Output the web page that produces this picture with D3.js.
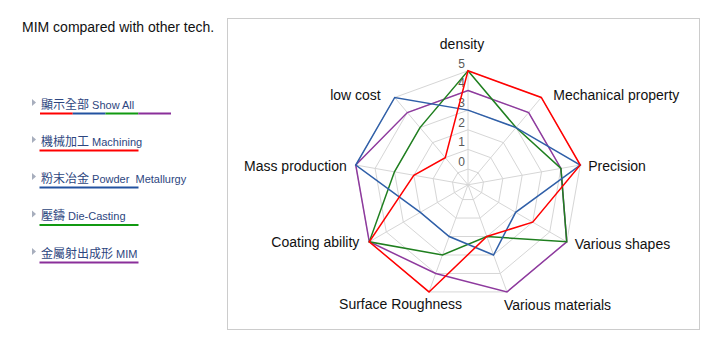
<!DOCTYPE html>
<html>
<head>
<meta charset="utf-8">
<script src="https://cdn.jsdelivr.net/npm/d3@7"></script>
<style>
  html, body { margin: 0; padding: 0; background: #ffffff; }
  svg { display: block; }
</style>
</head>
<body>
<svg id="chart" width="725" height="357"></svg>
<script>
// ---------- data ----------
const categories = ["density", "Mechanical property", "Precision", "Various shapes",
  "Various materials", "Surface Roughness", "Coating ability", "Mass production", "low cost"];
const machiningValues  = [5, 5, 5, 3, 2, 5, 5, 2, 1];
const powderValues     = [3, 3, 5, 2, 3, 2, 2, 5, 5];
const dieCastingValues = [5, 3, 4, 5, 2, 3, 5, 3, 3];
const mimValues        = [4, 4, 4, 5, 5, 4, 5, 5, 4];
const tickValues = [0, 1, 2, 3, 4, 5];
const titleText = "MIM compared with other tech.";
const legendZh = ["顯示全部", "機械加工", "粉末冶金", "壓鑄", "金屬射出成形"];
const legendEn = ["Show All", "Machining", "Powder  Metallurgy", "Die-Casting", "MIM"];

// ---------- layout / style ----------
const colors = { machining: "#ff0000", powder: "#2f5fa8", die: "#1f7f1f", mim: "#8e3a9e" };
const cx = 468, cy = 184.8, R = 114;
// label nudges (dx, dy, anchor) relative to the outer vertex of each axis
const labelLayout = [
  [-6, -26.5, "middle"], [12, -2.5, "start"], [8, 1, "start"], [8, 2.5, "start"],
  [-3, 13, "start"], [33, 12, "end"], [-10, 0.5, "end"], [-9, 1, "end"], [-14, -2, "end"]
];

const svg = d3.select("#chart");
const font = "'Liberation Sans', Arial, sans-serif";

// title
svg.append("text").attr("x", 22).attr("y", 32)
  .attr("font-family", font).attr("font-size", 14).attr("fill", "#111")
  .text(titleText);

// plot frame
svg.append("rect").attr("x", 227.5).attr("y", 18.5).attr("width", 472).attr("height", 311)
  .attr("fill", "#fff").attr("stroke", "#cccccc").attr("stroke-width", 1);

const g = svg.append("g").attr("transform", `translate(${cx},${cy})`);
const n = categories.length;
const angle = d3.scaleLinear().domain([0, n]).range([0, 2 * Math.PI]);
const r = d3.scaleLinear().domain([-0.8, 5]).range([0, R]);

// grid rings
const ringLine = d3.lineRadial().curve(d3.curveLinearClosed)
  .angle((d, i) => angle(i)).radius(d => r(d));
tickValues.forEach(t => {
  g.append("path").attr("d", ringLine(categories.map(() => t)))
    .attr("fill", "none").attr("stroke", "#d6d6d6").attr("stroke-width", 1);
});
// spokes
categories.forEach((c, i) => {
  const a = angle(i);
  g.append("line").attr("x1", 0).attr("y1", 0)
    .attr("x2", R * Math.sin(a)).attr("y2", -R * Math.cos(a))
    .attr("stroke", "#d6d6d6").attr("stroke-width", 1);
});

// tick labels
tickValues.forEach(t => {
  g.append("text").attr("x", -3).attr("y", -r(t) - 3)
    .attr("text-anchor", "end").attr("font-family", font).attr("font-size", 12)
    .attr("fill", "#595959").text(t);
});

// category labels
categories.forEach((c, i) => {
  const a = angle(i);
  const [dx, dy, anchor] = labelLayout[i];
  g.append("text")
    .attr("x", R * Math.sin(a) + dx).attr("y", -R * Math.cos(a) + dy)
    .attr("dy", "0.35em").attr("text-anchor", anchor)
    .attr("font-family", font).attr("font-size", 14).attr("fill", "#111")
    .text(c);
});

// series
const seriesLine = d3.lineRadial().curve(d3.curveLinearClosed)
  .angle((d, i) => angle(i)).radius(d => r(d));
const series = [
  { v: mimValues, c: colors.mim },
  { v: dieCastingValues, c: colors.die },
  { v: powderValues, c: colors.powder },
  { v: machiningValues, c: colors.machining }
];
series.forEach(s => {
  g.append("path").attr("d", seriesLine(s.v))
    .attr("fill", "none").attr("stroke", s.c).attr("stroke-width", 1.5)
    .attr("stroke-linejoin", "miter");
});

// legend
const legendY = [102.5, 139.5, 176.5, 214, 251.5];
const underlineColors = [null, colors.machining, "#2352a0", "#119911", "#8a2f9a"];
legendZh.forEach((zh, i) => {
  const y = legendY[i];
  svg.append("path").attr("d", `M32,${y - 3.5}L36,${y}L32,${y + 3.5}Z`).attr("fill", "#a7aebd");
  const t = svg.append("text").attr("x", 41).attr("y", y).attr("dy", "0.38em")
    .attr("fill", "#2d4680").attr("xml:space", "preserve");
  t.append("tspan").attr("font-family", "'Noto Sans CJK TC', 'Noto Sans CJK SC', sans-serif")
    .attr("font-size", 12).text(zh);
  t.append("tspan").attr("font-family", font).attr("font-size", 11)
    .attr("style", "white-space: pre").text(" " + legendEn[i]);
  const uy = y + 11;
  if (i === 0) {
    const segs = [colors.machining, "#2352a0", "#119911", "#8a2f9a"];
    segs.forEach((c, k) => {
      svg.append("line").attr("x1", 40 + k * 32.75).attr("x2", 40 + (k + 1) * 32.75)
        .attr("y1", uy).attr("y2", uy).attr("stroke", c).attr("stroke-width", 2);
    });
  } else {
    svg.append("line").attr("x1", 39.5).attr("x2", 138.5).attr("y1", uy).attr("y2", uy)
      .attr("stroke", underlineColors[i]).attr("stroke-width", 2);
  }
});
</script>
</body>
</html>
